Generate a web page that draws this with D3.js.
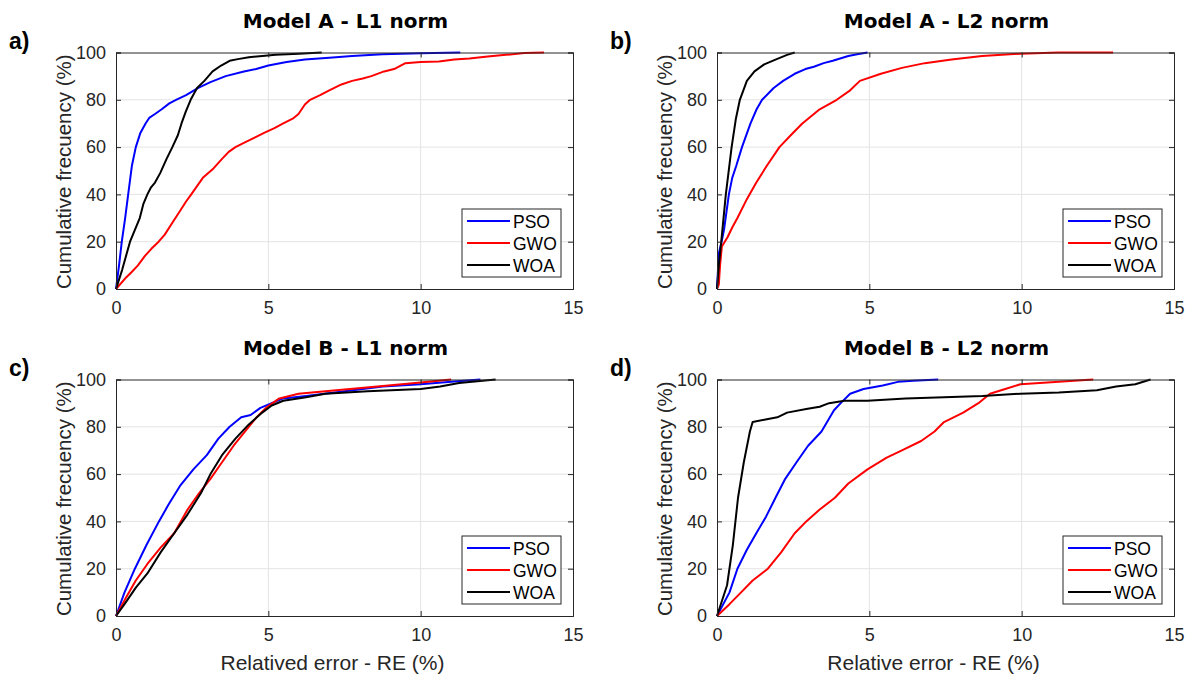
<!DOCTYPE html>
<html><head><meta charset="utf-8">
<script src="https://cdn.jsdelivr.net/npm/d3@7"></script>
<style>
body{margin:0;background:#fff;}
svg{display:block;}
</style></head>
<body><div id="chart"></div>
<script>
// ---------- data ----------
const seriesNames = ["PSO", "GWO", "WOA"];
const seriesColors = ["#0000ff", "#ff0000", "#000000"];
const xTicks = [0, 5, 10, 15];
const yTicks = [0, 20, 40, 60, 80, 100];
const panelTitles = ["Model A - L1 norm", "Model A - L2 norm", "Model B - L1 norm", "Model B - L2 norm"];
const panelLetters = ["a)", "b)", "c)", "d)"];
const xLabels = ["", "", "Relatived error - RE (%)", "Relative error - RE (%)"];
const yLabel = "Cumulative frecuency (%)";

// Panel a: Model A - L1 norm  [relative error %, cumulative %]
const aPSO = [[0,0],[0.1,10],[0.19,20],[0.3,30],[0.4,40],[0.52,52],[0.65,60],[0.8,66],[0.97,70],[1.1,72.5],[1.28,74],[1.5,76],[1.75,78.5],[1.97,80],[2.3,82],[2.7,85],[3.1,87.5],[3.6,90],[4.2,92],[4.6,93],[5.0,94.5],[5.6,96],[6.2,97],[7.0,97.8],[7.75,98.5],[8.75,99.3],[10,99.7],[11.3,100]];
const aGWO = [[0,0],[0.34,5],[0.5,7],[0.72,10],[0.95,14],[1.16,17],[1.4,20],[1.6,23],[1.85,28],[2.1,33],[2.3,37],[2.47,40],[2.85,47],[3.2,51],[3.48,55],[3.7,58],[3.92,60],[4.23,62],[4.55,64],[4.86,66],[5.2,68],[5.49,70],[5.8,72],[5.99,74],[6.2,78],[6.37,80],[6.7,82],[7.0,84],[7.4,86.5],[7.75,88],[8.1,89],[8.38,90],[8.8,92],[9.13,93],[9.5,95.5],[10.0,96],[10.6,96.2],[11.1,97],[11.6,97.5],[12.2,98.3],[12.8,99],[13.4,99.8],[14.05,100]];
const aWOA = [[0,0],[0.2,8],[0.46,20],[0.62,25],[0.78,30],[0.9,36],[1.03,40],[1.15,43],[1.28,45],[1.45,49],[1.66,55],[1.85,60],[2.03,65],[2.15,70],[2.29,75],[2.45,80],[2.66,85],[2.9,88],[3.17,92],[3.45,94.5],[3.73,96.5],[4.0,97.2],[4.36,98],[4.8,98.5],[5.24,99],[6.0,99.5],[6.75,100]];

// Panel b: Model A - L2 norm
const bPSO = [[0,0],[0.06,15],[0.15,20],[0.23,25],[0.39,40],[0.5,47],[0.63,52],[0.82,60],[1.1,70],[1.3,76],[1.48,80],[1.86,85],[2.17,88],[2.55,91],[2.9,93],[3.18,94],[3.5,95.5],[3.8,96.5],[4.31,98.5],[4.6,99.3],[4.94,100]];
const bGWO = [[0,0],[0.06,2],[0.1,10],[0.16,18],[0.35,22],[0.5,26],[0.67,30],[0.98,38],[1.29,45],[1.63,52],[2.05,60],[2.42,65],[2.8,70],[3.37,76],[3.93,80],[4.37,84],[4.69,88],[5.38,91],[6.07,93.5],[6.82,95.5],[7.7,97],[8.7,98.5],[9.96,99.5],[11.2,100],[13.0,100]];
const bWOA = [[0,0],[0.06,10],[0.14,20],[0.29,40],[0.48,60],[0.62,72],[0.75,80],[0.98,88],[1.23,92],[1.55,95],[1.92,97],[2.3,99],[2.55,100]];

// Panel c: Model B - L1 norm
const cPSO = [[0,0],[0.28,10],[0.62,20],[1.0,30],[1.41,40],[1.72,47],[2.1,55],[2.54,62],[2.98,68],[3.36,75],[3.73,80],[4.11,84],[4.42,85],[4.74,88],[5.11,90],[5.49,92],[6.24,93],[7.5,95],[8.76,97],[10.0,98],[11.0,99],[11.96,100]];
const cGWO = [[0,0],[0.34,8],[0.65,15],[1.03,22],[1.47,29],[1.91,35],[2.35,45],[2.73,52],[3.1,58],[3.48,65],[3.86,72],[4.23,78],[4.61,84],[4.92,88],[5.36,92],[5.99,94],[6.87,95],[8.13,96.5],[9.38,98],[10.26,99],[11.0,100]];
const cWOA = [[0,0],[0.28,5],[0.65,12],[1.03,18],[1.47,27],[1.91,35],[2.35,43],[2.79,52],[3.1,60],[3.48,68],[3.92,75],[4.36,81],[4.8,86],[5.11,89],[5.49,91],[6.24,92.5],[6.87,94],[8.26,95],[10.0,96],[10.64,97],[11.26,98.5],[12.46,100]];

// Panel d: Model B - L2 norm
const dPSO = [[0,0],[0.41,10],[0.67,20],[0.98,28],[1.29,35],[1.61,42],[1.92,50],[2.24,58],[2.61,65],[2.99,72],[3.43,78],[3.84,87],[4.06,90],[4.37,94],[4.81,96],[5.44,97.5],[5.94,99],[6.44,99.5],[7.26,100]];
const dGWO = [[0,0],[0.41,5],[0.79,10],[1.17,15],[1.67,20],[2.11,27],[2.55,35],[2.93,40],[3.37,45],[3.87,50],[4.31,56],[4.94,62],[5.57,67],[6.07,70],[6.7,74],[7.14,78],[7.45,82],[8.08,86],[8.58,90],[8.96,94],[9.46,96],[9.96,98],[11.22,99],[12.35,100]];
const dWOA = [[0,0],[0.33,13],[0.52,30],[0.69,50],[0.88,65],[1.08,78],[1.17,82],[1.55,83],[1.98,84],[2.3,86],[2.93,87.5],[3.37,88.5],[3.68,90],[4.18,91],[4.94,91],[6.19,92],[7.45,92.5],[8.71,93],[9.96,94],[11.22,94.5],[12.47,95.5],[13.1,97],[13.73,98],[14.23,100]];

const panelData = [
  [aPSO, aGWO, aWOA],
  [bPSO, bGWO, bWOA],
  [cPSO, cGWO, cWOA],
  [dPSO, dGWO, dWOA]
];

// ---------- layout ----------
const W = 1200, H = 680;
const plotW = 457, plotH = 236.5;
const origins = [[116,52.5],[717,52.5],[116,379.5],[717,379.5]];
const axisColor = "#262626";
const tickFont = "'Liberation Sans', Arial, sans-serif";

const svg = d3.select("#chart").append("svg").attr("width", W).attr("height", H);

const x = d3.scaleLinear().domain([0, 15]).range([0, plotW]);
const y = d3.scaleLinear().domain([0, 100]).range([plotH, 0]);

panelData.forEach((series, i) => {
  const [ox, oy] = origins[i];
  const g = svg.append("g").attr("transform", `translate(${ox},${oy})`);

  // grid
  g.append("g").selectAll("line").data(xTicks.slice(1, -1)).join("line")
    .attr("x1", d => x(d)).attr("x2", d => x(d)).attr("y1", 0).attr("y2", plotH)
    .attr("stroke", "#e3e3e3").attr("stroke-width", 1);
  g.append("g").selectAll("line").data(yTicks.slice(1, -1)).join("line")
    .attr("y1", d => y(d)).attr("y2", d => y(d)).attr("x1", 0).attr("x2", plotW)
    .attr("stroke", "#e3e3e3").attr("stroke-width", 1);

  // lines
  const line = d3.line().x(d => x(d[0])).y(d => y(d[1]));
  series.forEach((s, k) => {
    g.append("path").datum(s).attr("d", line)
      .attr("fill", "none").attr("stroke", seriesColors[k])
      .attr("stroke-width", 2).attr("stroke-linejoin", "round");
  });

  // axes (ticks inward)
  const xAx = g.append("g").attr("transform", `translate(0,${plotH})`)
    .call(d3.axisBottom(x).tickValues(xTicks).tickSize(-5).tickPadding(12).tickFormat(d3.format("d")));
  const xAxTop = g.append("g")
    .call(d3.axisTop(x).tickValues(xTicks).tickSize(-5).tickFormat(""));
  const yAx = g.append("g")
    .call(d3.axisLeft(y).tickValues(yTicks).tickSize(-5).tickPadding(10).tickFormat(d3.format("d")));
  const yAxR = g.append("g").attr("transform", `translate(${plotW},0)`)
    .call(d3.axisRight(y).tickValues(yTicks).tickSize(-5).tickFormat(""));
  [xAx, xAxTop, yAx, yAxR].forEach(a => {
    a.select(".domain").attr("stroke", axisColor).attr("stroke-width", 1);
    a.selectAll(".tick line").attr("stroke", axisColor);
    a.selectAll("text").attr("fill", axisColor).style("font-family", tickFont).style("font-size", "18px");
  });

  // title
  g.append("text").attr("x", plotW / 2 + 1).attr("y", -25)
    .attr("text-anchor", "middle")
    .style("font-family", "'DejaVu Sans', sans-serif")
    .style("font-weight", "bold").style("font-size", "20px")
    .attr("fill", "#000").text(panelTitles[i]);

  // panel letter
  svg.append("text").attr("x", ox - 107).attr("y", oy - 4)
    .style("font-family", "'Liberation Sans', Arial, sans-serif")
    .style("font-weight", "bold").style("font-size", "23px")
    .attr("fill", "#000").text(panelLetters[i]);

  // y label
  g.append("text").attr("transform", `translate(-45,${plotH / 2 + 1}) rotate(-90)`)
    .attr("text-anchor", "middle")
    .style("font-family", tickFont).style("font-size", "20.5px")
    .attr("fill", axisColor).text(yLabel);

  // x label
  if (xLabels[i]) {
    g.append("text").attr("x", plotW / 2 - 12).attr("y", plotH + 54)
      .attr("text-anchor", "middle")
      .style("font-family", tickFont).style("font-size", "21px")
      .attr("fill", axisColor).text(xLabels[i]);
  }

  // legend
  const lg = g.append("g").attr("transform", `translate(${plotW - 111},${plotH - 80})`);
  lg.append("rect").attr("x", 0).attr("y", 0).attr("width", 99).attr("height", 68)
    .attr("fill", "#fff").attr("stroke", axisColor).attr("stroke-width", 1);
  seriesNames.forEach((nm, k) => {
    const ly = 12 + k * 22;
    lg.append("line").attr("x1", 5).attr("x2", 48).attr("y1", ly).attr("y2", ly)
      .attr("stroke", seriesColors[k]).attr("stroke-width", 2);
    lg.append("text").attr("x", 51).attr("y", ly + 6.5)
      .style("font-family", tickFont).style("font-size", "17.5px")
      .attr("fill", "#000").text(nm);
  });
});
</script>
</body></html>
